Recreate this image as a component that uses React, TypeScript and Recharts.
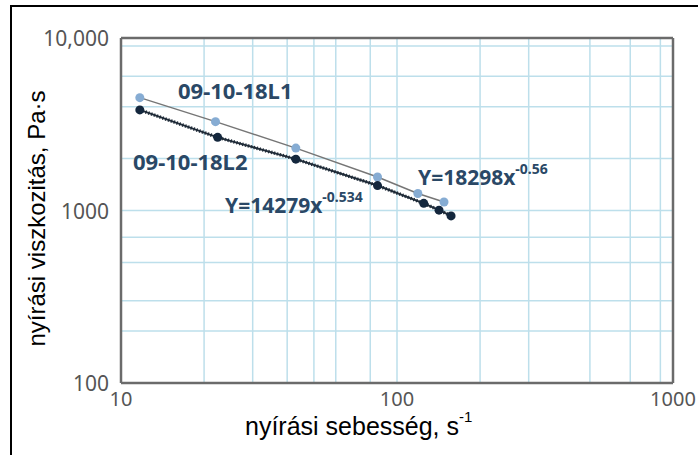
import React from "react";
import {
  CartesianGrid,
  ReferenceLine,
  Scatter,
  ScatterChart,
  XAxis,
  YAxis,
} from "recharts";

// shear rate (1/s) and shear viscosity (Pa·s)
const l1Rate = [11.7, 22, 43, 85, 119, 148];
const l1Visc = [4510, 3275, 2300, 1565, 1255, 1120];
const l2Rate = [11.7, 22.4, 43, 85, 125, 142, 157];
const l2Visc = [3830, 2655, 1985, 1395, 1100, 1005, 930];

const xTicks = [10, 100, 1000];
const yTicks = [100, 1000, 10000];
const xGrid = [20, 30, 40, 50, 60, 70, 80, 90, 100, 200, 300, 400, 500, 600, 700, 800, 900];
const yGrid = [200, 300, 400, 500, 600, 700, 800, 900, 1000, 2000, 3000, 4000, 5000, 6000, 7000, 8000, 9000];

const seriesL1 = l1Rate.map((x, i) => ({ x, y: l1Visc[i] }));
const seriesL2 = l2Rate.map((x, i) => ({ x, y: l2Visc[i] }));

const W = 698;
const H = 455;
const FRAME = "#6b6b6b";
const GRID = "#bddfeb";
const LABEL = "#2a4866";
const TICK_FONT = "'Noto Sans', 'Open Sans', sans-serif";
const TITLE_FONT = "'Liberation Sans', Arial, sans-serif";

const formatTick = (v: number) => (v === 10000 ? "10,000" : String(v));

const YTick = (props: any) => (
  <text
    x={props.x}
    y={props.y}
    textAnchor="end"
    dominantBaseline="central"
    fontFamily={TICK_FONT}
    fontSize={21}
    fill="#555"
  >
    {formatTick(props.payload.value)}
  </text>
);

const XTick = (props: any) => (
  <text
    x={props.x}
    y={props.y}
    textAnchor="middle"
    dominantBaseline="central"
    fontFamily={TICK_FONT}
    fontSize={20}
    fill="#555"
  >
    {formatTick(props.payload.value)}
  </text>
);

const dot = (color: string, r: number) => (props: any) =>
  <circle cx={props.cx} cy={props.cy} r={r} fill={color} />;

const noDot = () => <g />;

export default function App() {
  return (
    <div style={{ position: "absolute", left: 0, top: 0, width: W, height: H, background: "#fff" }}>
      <ScatterChart
        width={W}
        height={H}
        margin={{ top: 38, right: 25, bottom: 42, left: 21 }}
      >
        <CartesianGrid
          stroke={GRID}
          strokeWidth={1.5}
          horizontalValues={yGrid}
          verticalValues={xGrid}
        />
        <XAxis
          type="number"
          dataKey="x"
          scale="log"
          domain={[10, 1000]}
          ticks={xTicks}
          allowDataOverflow
          height={30}
          tickSize={0}
          tickMargin={15}
          tickLine={false}
          axisLine={{ stroke: FRAME, strokeWidth: 2.5 }}
          tick={<XTick />}
        />
        <YAxis
          type="number"
          dataKey="y"
          scale="log"
          domain={[100, 10000]}
          ticks={yTicks}
          allowDataOverflow
          width={100}
          tickSize={0}
          tickMargin={12}
          tickLine={false}
          axisLine={{ stroke: FRAME, strokeWidth: 2.5 }}
          tick={<YTick />}
        />
        <ReferenceLine y={10000} stroke={FRAME} strokeWidth={2.5} />
        <ReferenceLine x={1000} stroke={FRAME} strokeWidth={2.5} />
        <Scatter
          data={seriesL1}
          fill="#86acd3"
          line={{ stroke: "#767676", strokeWidth: 1.5 }}
          shape={dot("#86acd3", 4.5)}
          isAnimationActive={false}
        />
        <Scatter
          data={seriesL2}
          fill="#1a2a3c"
          line={{ stroke: "#1f2b38", strokeWidth: 2 }}
          shape={noDot}
          isAnimationActive={false}
        />
        <Scatter
          data={seriesL2}
          fill="#14273d"
          line={{ stroke: "#1f2b38", strokeWidth: 3.5, strokeDasharray: "1.2 1.8" }}
          shape={dot("#14273d", 4.5)}
          isAnimationActive={false}
        />
      </ScatterChart>

      <svg
        width={W}
        height={H}
        style={{ position: "absolute", left: 0, top: 0, pointerEvents: "none" }}
      >
        <path d={`M11 ${H} L11 6 L${W} 6`} stroke="#000" strokeWidth={2} fill="none" />

        <g fontFamily={TICK_FONT} fontWeight={700} fill={LABEL}>
          <text x={178} y={99} fontSize={22}>09-10-18L1</text>
          <text x={133} y={169.5} fontSize={22}>09-10-18L2</text>
          <text x={225} y={213} fontSize={21}>
            Y=14279x
            <tspan fontSize={14} dy={-11}>-0.534</tspan>
          </text>
          <text x={418} y={185} fontSize={21}>
            Y=18298x
            <tspan fontSize={14} dy={-11}>-0.56</tspan>
          </text>
        </g>

        <text
          transform="translate(45 218.5) rotate(-90)"
          textAnchor="middle"
          fontFamily={TITLE_FONT}
          fontSize={24}
          fill="#000"
        >
          nyírási viszkozitás, Pa·s
        </text>
        <text x={245} y={435} fontFamily={TITLE_FONT} fontSize={25} fill="#000">
          nyírási sebesség, s
          <tspan fontSize={15} dy={-13}>-1</tspan>
        </text>
      </svg>
    </div>
  );
}
